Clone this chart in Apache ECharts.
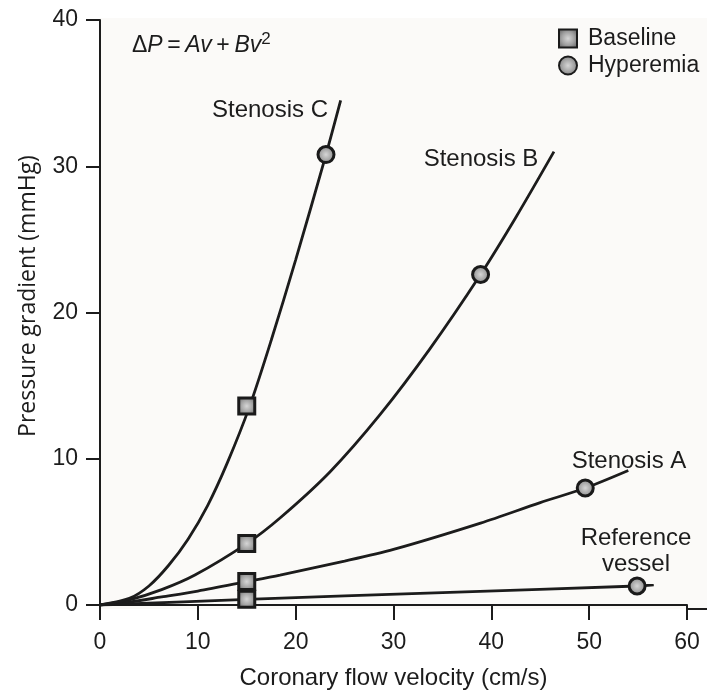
<!DOCTYPE html>
<html><head><meta charset="utf-8">
<script src="https://cdn.jsdelivr.net/npm/echarts@6/dist/echarts.min.js"></script>
<style>html,body{margin:0;padding:0;background:#fff}#c{width:707px;height:695px}</style>
</head><body><div id="c"></div>
<script>
// ---- data ----
const xTicks = [0, 10, 20, 30, 40, 50, 60];
const yTicks = [0, 10, 20, 30, 40];

const refX = [0, 15, 35, 54.9, 56.6];
const refY = [0, 0.38, 0.85, 1.3, 1.38];

const stenAX = [0, 3, 6.3, 10, 15, 18.4, 25, 30, 38.9, 45, 49.6, 54];
const stenAY = [0, 0.2, 0.55, 0.95, 1.6, 2.05, 3.0, 3.8, 5.6, 7.0, 8.0, 9.2];

const stenBX = [0, 3, 6.3, 9.7, 15, 18.4, 23.5, 28.6, 33.7, 38.9, 42.5, 46.4];
const stenBY = [0, 0.35, 1.05, 2.05, 4.2, 5.95, 9.1, 13.0, 17.5, 22.6, 26.5, 31.0];

const stenCX = [0, 3, 5, 7, 9, 11, 13, 15.3, 17.5, 20, 23.1, 24.6];
const stenCY = [0, 0.45, 1.3, 2.7, 4.5, 6.8, 9.7, 13.6, 18.1, 23.6, 30.8, 34.5];

const baselineX = [15, 15, 15, 15];
const baselineY = [0.4, 1.6, 4.2, 13.6];

const hyperX = [54.9, 49.6, 38.9, 23.1];
const hyperY = [1.3, 8.0, 22.6, 30.8];

const zip = (xs, ys) => xs.map((x, i) => [x, ys[i]]);

const INK = '#1c1c1c';
const FONT = '"Liberation Sans", Arial, sans-serif';

const markerFill = new echarts.graphic.RadialGradient(0.5, 0.5, 0.6, [
  { offset: 0, color: '#d6d6d6' },
  { offset: 0.55, color: '#a0a0a0' },
  { offset: 1, color: '#666666' }
]);

function curve(name, xs, ys) {
  return {
    name: name, type: 'line', data: zip(xs, ys), smooth: 0.3,
    showSymbol: false, symbol: 'none', silent: true,
    lineStyle: { color: INK, width: 2.8 }, z: 2
  };
}

const chart = echarts.init(document.getElementById('c'), null, { renderer: 'canvas' });
chart.setOption({
  animation: false,
  backgroundColor: '#ffffff',
  grid: { left: 100, right: 20, top: 20, bottom: 86, show: false },
  xAxis: {
    type: 'value', min: xTicks[0], max: xTicks[xTicks.length - 1], interval: 10,
    name: 'Coronary flow velocity (cm/s)', nameLocation: 'middle', nameGap: 61,
    nameTextStyle: { fontSize: 24, color: INK, fontFamily: FONT },
    axisLine: { show: true, lineStyle: { color: INK, width: 2 } },
    axisTick: { show: true, inside: false, length: 15, lineStyle: { color: INK, width: 2 } },
    axisLabel: { fontSize: 23, color: INK, fontFamily: FONT, margin: 26 },
    splitLine: { show: false }
  },
  yAxis: {
    type: 'value', min: yTicks[0], max: yTicks[yTicks.length - 1], interval: 10,
    axisLine: { show: true, lineStyle: { color: INK, width: 2 } },
    axisTick: { show: true, inside: false, length: 14, lineStyle: { color: INK, width: 2 } },
    axisLabel: { fontSize: 23, color: INK, fontFamily: FONT, margin: 22 },
    splitLine: { show: false }
  },
  legend: {
    orient: 'vertical', left: 553, top: 22, itemWidth: 18, itemHeight: 18, itemGap: 4,
    data: ['Baseline', 'Hyperemia'],
    textStyle: { fontSize: 23, color: INK, fontFamily: FONT, padding: [0, 0, 0, 6] }
  },
  series: [
    curve('Reference vessel', refX, refY),
    curve('Stenosis A', stenAX, stenAY),
    curve('Stenosis B', stenBX, stenBY),
    curve('Stenosis C', stenCX, stenCY),
    {
      name: 'Baseline', type: 'scatter', data: zip(baselineX, baselineY),
      symbol: 'rect', symbolSize: 16, z: 5,
      itemStyle: { color: markerFill, borderColor: '#1a1a1a', borderWidth: 3, opacity: 1 }
    },
    {
      name: 'Hyperemia', type: 'scatter', data: zip(hyperX, hyperY),
      symbol: 'circle', symbolSize: 16, z: 5,
      itemStyle: { color: markerFill, borderColor: '#1a1a1a', borderWidth: 3, opacity: 1 }
    }
  ],
  graphic: [
    { type: 'rect', silent: true, z: -10, shape: { x: 100, y: 18, width: 607, height: 591 }, style: { fill: '#fbfaf8' } },
    { type: 'line', silent: true, shape: { x1: 687, y1: 609, x2: 707, y2: 609 }, style: { stroke: INK, lineWidth: 2 } },
    { type: 'text', silent: true, x: 28, y: 296, rotation: Math.PI / 2,
      style: { text: 'Pressure gradient (mmHg)', fontSize: 23, fontFamily: '"Open Sans", sans-serif', fill: INK, textAlign: 'center', textVerticalAlign: 'middle' } },
    { type: 'text', silent: true, x: 270, y: 110, style: { text: 'Stenosis C', fontSize: 24, fontFamily: FONT, fill: INK, textAlign: 'center', textVerticalAlign: 'middle' } },
    { type: 'text', silent: true, x: 481, y: 159, style: { text: 'Stenosis B', fontSize: 24, fontFamily: FONT, fill: INK, textAlign: 'center', textVerticalAlign: 'middle' } },
    { type: 'text', silent: true, x: 629, y: 461, style: { text: 'Stenosis A', fontSize: 24, fontFamily: FONT, fill: INK, textAlign: 'center', textVerticalAlign: 'middle' } },
    { type: 'text', silent: true, x: 636, y: 551, style: { text: 'Reference\nvessel', fontSize: 24, lineHeight: 26, fontFamily: FONT, fill: INK, textAlign: 'center', textVerticalAlign: 'middle' } },
    { type: 'text', silent: true, x: 132, y: 44,
      style: {
        text: '{n|Δ}{i|P}{n|\u2009=\u2009}{i|Av}{n|\u2009+\u2009}{i|Bv}{s|2}',
        textAlign: 'left', textVerticalAlign: 'middle', fill: INK,
        rich: {
          n: { fontSize: 23, fontFamily: FONT, fill: INK, lineHeight: 26, verticalAlign: 'bottom' },
          i: { fontSize: 23, fontFamily: FONT, fontStyle: 'italic', fill: INK, lineHeight: 26, verticalAlign: 'bottom' },
          s: { fontSize: 17, fontFamily: FONT, fill: INK, lineHeight: 14, verticalAlign: 'top' }
        }
      } }
  ]
});
</script></body></html>
